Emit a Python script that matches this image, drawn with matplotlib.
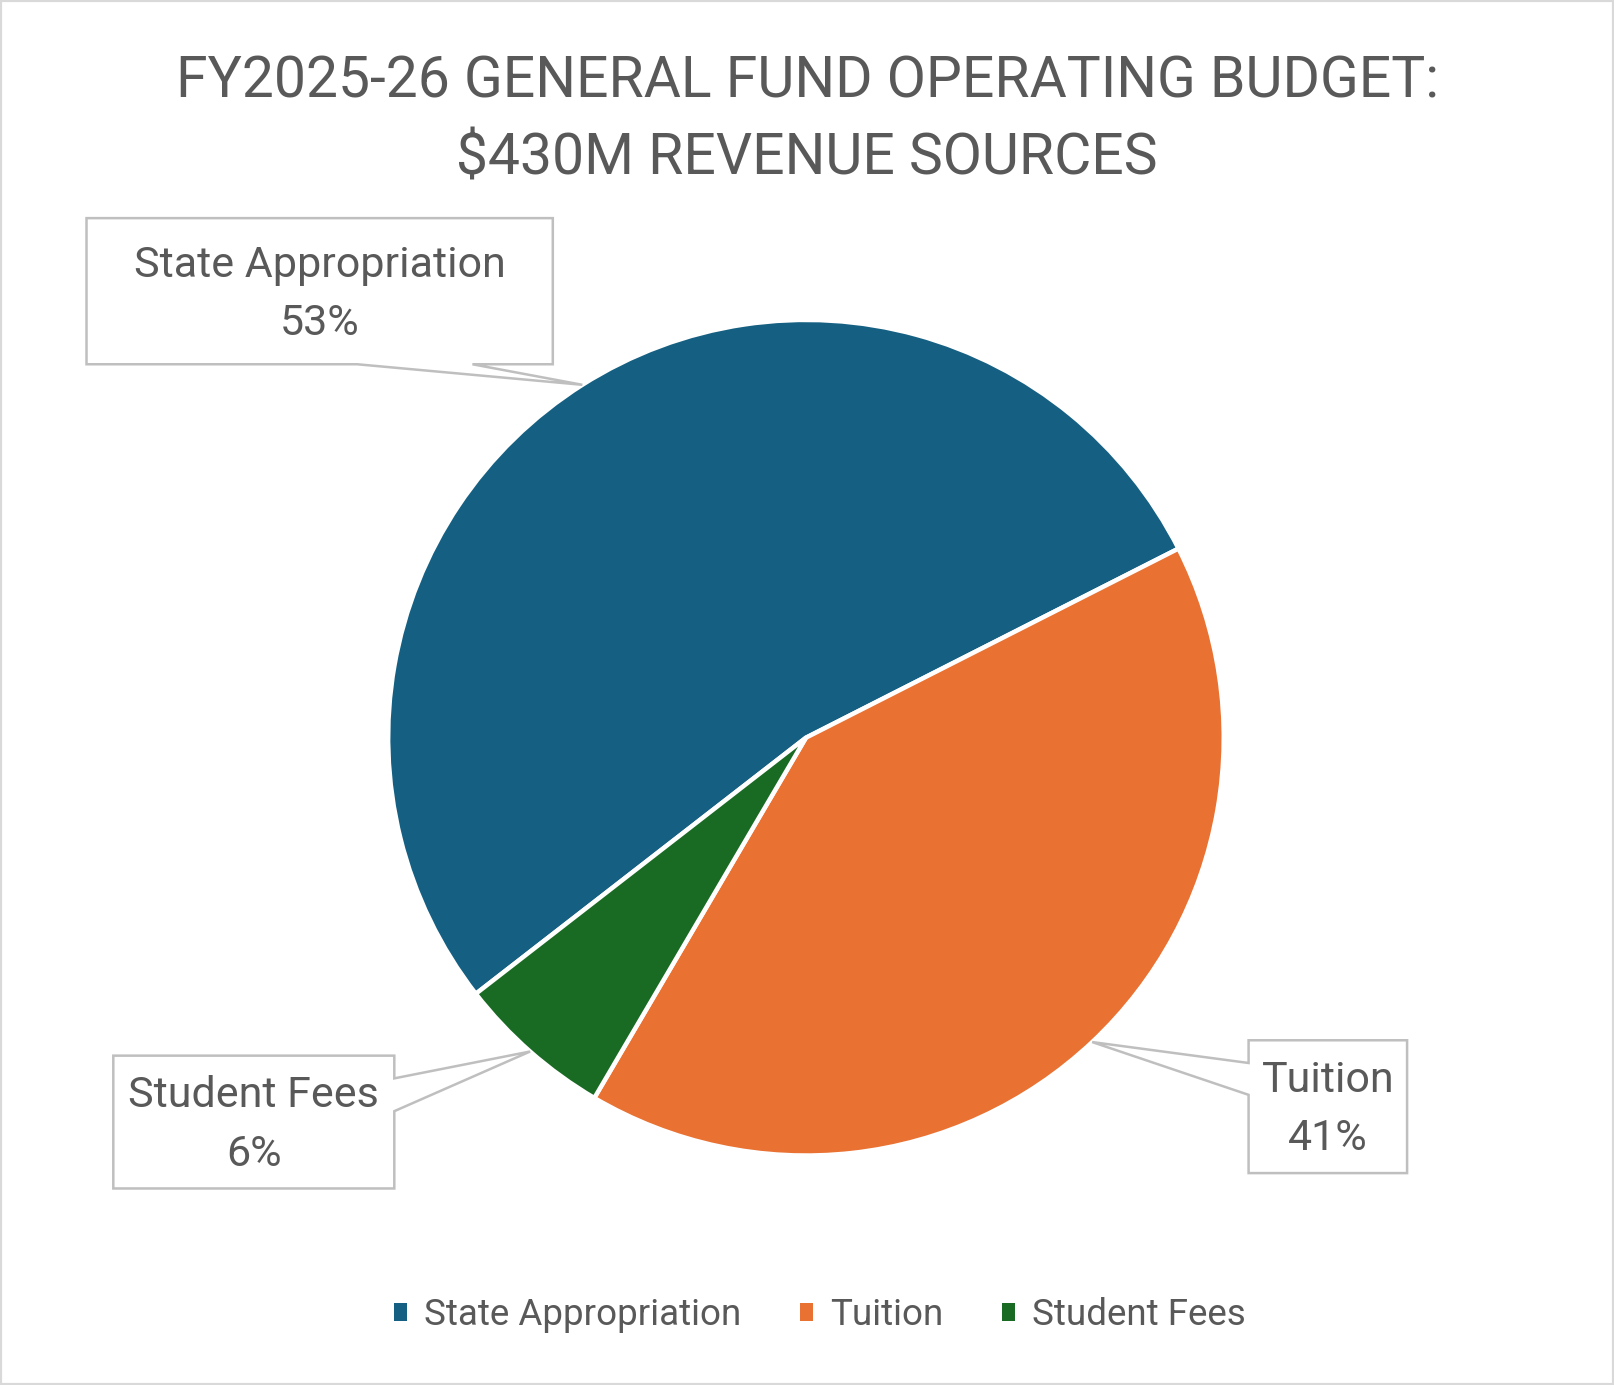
import matplotlib.pyplot as plt
from matplotlib.patches import Polygon, Rectangle, Patch
import numpy as np

plt.rcParams['font.family'] = ['Liberation Sans Narrow', 'Roboto', 'DejaVu Sans']

# revenue sources, $M (of $430M total)
labels = ['State Appropriation', 'Tuition', 'Student Fees']
values = [228, 176, 26]
colors = ['#156082', '#E97132', '#196B24']

txt_col = '#595959'
box_col = '#BFBFBF'

fig = plt.figure(figsize=(16.14, 13.85), dpi=100)

# pie axes placed like the excel plot area
ax = fig.add_axes([0.2404, 0.1657, 0.5179, 0.6033])
wedges, _ = ax.pie(values, colors=colors, startangle=217.8, counterclock=False,
                   wedgeprops=dict(edgecolor='white', linewidth=3.2))
ax.set_xlim(-1, 1)
ax.set_ylim(-1, 1)
ax.apply_aspect()

# title
fig.text(0.5, 0.9130, 'FY2025-26 GENERAL FUND OPERATING BUDGET:\n$430M REVENUE SOURCES',
         ha='center', va='center', fontsize=41, color=txt_col, linespacing=1.5)

total = sum(values)


def tip_of(w):
    # point on the outer edge at the middle of the wedge, in figure coords
    a = np.deg2rad((w.theta1 + w.theta2) / 2)
    p = ax.transData.transform((w.r * np.cos(a), w.r * np.sin(a)))
    return fig.transFigure.inverted().transform(p)


# callout boxes: (x0, x1, y0, y1), side of pointer, pointer base (2 values)
boxes = [
    ((0.0536, 0.3425, 0.7370, 0.8425), 'bottom', (0.2213, 0.2927)),
    ((0.7736, 0.8718, 0.1530, 0.2489), 'left', (0.2325, 0.2095)),
    ((0.0702, 0.2443, 0.1419, 0.2378), 'right', (0.2214, 0.1977)),
]

for i, (w, (bx, side, base)) in enumerate(zip(wedges, boxes)):
    x0, x1, y0, y1 = bx
    tip = tuple(tip_of(w))
    if side == 'bottom':
        pts = [(x0, y1), (x1, y1), (x1, y0), (base[1], y0), tip, (base[0], y0), (x0, y0)]
    elif side == 'left':
        pts = [(x0, y1), (x1, y1), (x1, y0), (x0, y0), (x0, base[1]), tip, (x0, base[0])]
    else:
        pts = [(x0, y1), (x1, y1), (x1, base[0]), tip, (x1, base[1]), (x1, y0), (x0, y0)]
    fig.add_artist(Polygon(pts, closed=True, transform=fig.transFigure,
                           facecolor='white', edgecolor=box_col, linewidth=1.8,
                           joinstyle='miter', zorder=2))
    pct = f'{values[i] / total:.0%}'
    fig.text((x0 + x1) / 2, (y0 + y1) / 2 - 0.0022, labels[i] + '\n' + pct,
             ha='center', va='center', fontsize=31, color=txt_col,
             linespacing=1.54, zorder=3)

# legend
handles = [Patch(facecolor=c, edgecolor='none') for c in colors]
fig.legend(handles, labels, loc='center', bbox_to_anchor=(0.508, 1 - 1278 / 1346),
           ncol=3, frameon=False, fontsize=26.5, handlelength=0.36, handleheight=0.36,
           handletextpad=0.45, columnspacing=1.6, labelcolor=txt_col)

# chart border
fig.add_artist(Rectangle((0, 0), 1, 1, transform=fig.transFigure, fill=False,
                         edgecolor='#D9D9D9', linewidth=3, zorder=5))

fig.savefig('out.png', dpi=100)
